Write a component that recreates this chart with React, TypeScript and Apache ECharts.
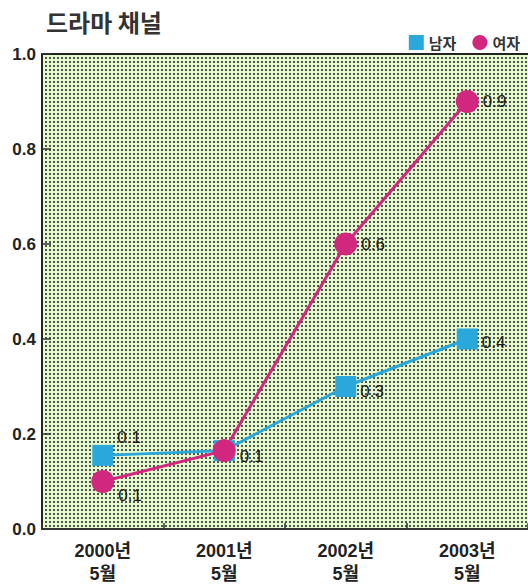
import React, { useEffect, useRef } from "react";
import * as echarts from "echarts";

// Viewership share of the drama channel, by sex, surveyed each May
const periods = ["2000년\n5월", "2001년\n5월", "2002년\n5월", "2003년\n5월"];
const seriesNames = ["남자", "여자"];
const maleValues = [0.155, 0.165, 0.3, 0.4];
const femaleValues = [0.1, 0.165, 0.6, 0.9];
const yMin = 0;
const yMax = 1.0;
const yStep = 0.2;

const MALE_COLOR = "#2aa8dc";
const FEMALE_COLOR = "#d2277e";
const CJK = "'Noto Sans CJK KR', 'Noto Sans', sans-serif";
const LATIN = "'Liberation Sans', Arial, sans-serif";
const MIXED = "'Liberation Sans', 'Noto Sans CJK KR', sans-serif";

// Point labels show the value cut to one decimal place
const fmtValue = (v: number) => (Math.floor(v * 10 + 1e-9) / 10).toFixed(1);

// Label placement tweaks per point (so the numbers don't collide)
const maleLabelOffsets: ([number, number] | null)[] = [[0, -18], null, [0, 5], [0, 3]];
const femaleLabelOffsets: ([number, number] | null)[] = [[0, 14], [0, 6], [0, 0], [0, 0]];

function dottedTile(): HTMLCanvasElement {
  const c = document.createElement("canvas");
  c.width = 4;
  c.height = 4;
  const ctx = c.getContext("2d")!;
  ctx.fillStyle = "#e6f8ce";
  ctx.fillRect(0, 0, 4, 4);
  ctx.fillStyle = "#4c5549";
  ctx.fillRect(1, 1, 2, 2);
  return c;
}

function buildPoints(values: number[], offsets: ([number, number] | null)[]) {
  return values.map((v, i) => {
    const off = offsets[i];
    return {
      value: v,
      label: off ? { show: true, offset: off } : { show: false },
    };
  });
}

export default function App() {
  const ref = useRef<HTMLDivElement>(null);

  useEffect(() => {
    if (!ref.current) return;
    const chart = echarts.init(ref.current, null, { renderer: "svg" });

    const pointLabel = {
      show: true,
      position: "right" as const,
      distance: 4,
      color: "#1a1a1a",
      fontFamily: LATIN,
      fontSize: 17,
      formatter: (p: any) => fmtValue(p.value),
    };

    chart.setOption({
      animation: false,
      backgroundColor: "#ffffff",
      title: {
        text: "드라마 채널",
        left: 41,
        top: 4,
        textStyle: { fontFamily: CJK, fontSize: 24, fontWeight: "bold", color: "#333" },
      },
      legend: {
        right: 3,
        top: 30,
        itemWidth: 15,
        itemHeight: 15,
        itemGap: 16,
        selectedMode: false,
        data: [
          { name: seriesNames[0], icon: "rect" },
          { name: seriesNames[1], icon: "circle" },
        ],
        textStyle: { fontFamily: CJK, fontSize: 15, fontWeight: "bold", color: "#333" },
      },
      grid: {
        left: 42,
        right: 0,
        top: 54,
        bottom: 58,
        show: true,
        borderWidth: 0,
        backgroundColor: {
          image: dottedTile(),
          repeat: "repeat",
          imageWidth: 4,
          imageHeight: 4,
        },
      },
      xAxis: [
        {
          type: "category",
          data: periods,
          boundaryGap: true,
          axisLine: { show: true, lineStyle: { color: "#333", width: 2 } },
          axisTick: { show: true, inside: true, length: 6, interval: 0, lineStyle: { color: "#333", width: 1.5 } },
          axisLabel: {
            interval: 0,
            margin: 10,
            fontFamily: MIXED,
            fontSize: 18,
            lineHeight: 23,
            fontWeight: "bold",
            color: "#222",
          },
          splitLine: { show: false },
        },
        {
          type: "category",
          data: periods,
          position: "top",
          axisLine: { show: true, lineStyle: { color: "#222", width: 2 } },
          axisTick: { show: false },
          axisLabel: { show: false },
          splitLine: { show: false },
        },
      ],
      yAxis: {
        type: "value",
        min: yMin,
        max: yMax,
        interval: yStep,
        axisLine: { show: true, lineStyle: { color: "#222", width: 2 } },
        axisTick: { show: true, inside: true, length: 9, lineStyle: { color: "#333", width: 1.5 } },
        axisLabel: {
          margin: 6,
          fontFamily: LATIN,
          fontSize: 17,
          fontWeight: "bold",
          color: "#222",
          formatter: (v: number) => v.toFixed(1),
        },
        splitLine: { show: false },
      },
      series: [
        {
          name: seriesNames[0],
          type: "line",
          xAxisIndex: 0,
          data: buildPoints(maleValues, maleLabelOffsets),
          symbol: "rect",
          symbolSize: 21,
          color: MALE_COLOR,
          lineStyle: { color: MALE_COLOR, width: 3 },
          itemStyle: { color: MALE_COLOR },
          label: pointLabel,
        },
        {
          name: seriesNames[1],
          type: "line",
          xAxisIndex: 0,
          data: buildPoints(femaleValues, femaleLabelOffsets),
          symbol: "circle",
          symbolSize: 23,
          color: FEMALE_COLOR,
          lineStyle: { color: FEMALE_COLOR, width: 3 },
          itemStyle: { color: FEMALE_COLOR },
          label: pointLabel,
        },
      ],
    });

    return () => chart.dispose();
  }, []);

  return (
    <div
      ref={ref}
      style={{ position: "fixed", left: 0, top: 0, width: 528, height: 587 }}
    />
  );
}
